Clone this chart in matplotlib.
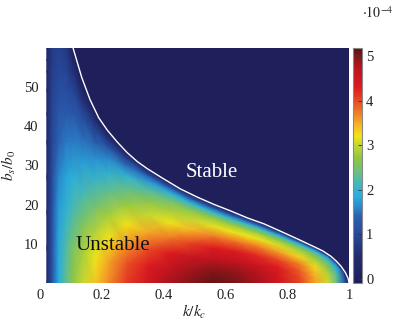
import numpy as np
import matplotlib
matplotlib.use("Agg")
import matplotlib.pyplot as plt
from matplotlib.colors import LinearSegmentedColormap, Normalize

plt.rcParams['font.family'] = ['Liberation Serif', 'DejaVu Serif']
plt.rcParams['mathtext.fontset'] = 'stix'

# ---- data ----
# k/k_c positions of mesh columns
k_cols = [0.022, 0.04, 0.06, 0.085, 0.107, 0.14, 0.18, 0.22, 0.28, 0.35, 0.42,
          0.49, 0.56, 0.63, 0.70, 0.77, 0.84, 0.89, 0.93, 0.96, 0.985, 1.0]
# top of the unstable region in each column (b_s/b_0), clipped at 60
top_cols = [60, 60, 60, 60, 60, 51.5, 43.8, 38.8, 33.45, 29.05, 25.65,
            22.65, 20.15, 17.95, 15.85, 13.5, 11.0, 9.15, 7.45, 5.5, 3.05, 0.0]
# fractional heights of mesh rows (fraction of column top)
s_rows = [0, 0.15, 0.3, 0.45, 0.6, 0.72, 0.82, 0.9, 0.95, 1.0]
# growth rate (x1e-4), one list per column, bottom -> top
growth_cols = [
    [0.5, 0.5, 0.5, 0.48, 0.45, 0.42, 0.4, 0.38, 0.37, 0.36],
    [1.2, 1.2, 1.15, 1.1, 1.0, 0.95, 0.9, 0.85, 0.8, 0.78],
    [1.85, 1.82, 1.75, 1.6, 1.4, 1.25, 1.1, 1.0, 0.95, 0.9],
    [2.35, 2.25, 2.0, 1.8, 1.55, 1.3, 1.1, 0.95, 0.85, 0.75],
    [2.7, 2.55, 2.2, 1.9, 1.55, 1.25, 0.95, 0.6, 0.35, 0.0],
    [3.0, 2.85, 2.55, 2.15, 1.75, 1.45, 1.05, 0.6, 0.3, 0.0],
    [3.35, 3.2, 2.9, 2.5, 2.05, 1.7, 1.3, 0.85, 0.45, 0.0],
    [3.65, 3.5, 3.2, 2.8, 2.35, 1.95, 1.6, 1.1, 0.6, 0.0],
    [4.1, 3.95, 3.6, 3.2, 2.75, 2.35, 1.95, 1.45, 0.85, 0.0],
    [4.5, 4.3, 4.0, 3.5, 3.0, 2.65, 2.25, 1.7, 1.1, 0.0],
    [4.8, 4.65, 4.35, 3.75, 3.2, 2.85, 2.5, 1.9, 1.3, 0.0],
    [5.0, 4.85, 4.55, 4.05, 3.45, 3.0, 2.65, 1.95, 1.3, 0.0],
    [5.12, 5.0, 4.7, 4.3, 3.7, 3.15, 2.75, 2.0, 1.3, 0.0],
    [5.05, 4.95, 4.7, 4.35, 3.75, 3.2, 2.75, 2.0, 1.3, 0.0],
    [4.85, 4.75, 4.55, 4.2, 3.7, 3.2, 2.75, 2.05, 1.35, 0.0],
    [4.5, 4.45, 4.3, 4.0, 3.55, 3.1, 2.7, 2.05, 1.4, 0.0],
    [4.05, 4.0, 3.9, 3.7, 3.3, 2.95, 2.6, 2.05, 1.45, 0.0],
    [3.55, 3.5, 3.4, 3.25, 2.95, 2.7, 2.4, 1.9, 1.35, 0.0],
    [3.05, 3.0, 2.95, 2.8, 2.6, 2.35, 2.1, 1.7, 1.2, 0.0],
    [2.4, 2.35, 2.3, 2.2, 2.05, 1.85, 1.65, 1.35, 1.0, 0.0],
    [1.3, 1.3, 1.25, 1.2, 1.1, 1.0, 0.9, 0.7, 0.5, 0.0],
    [0, 0, 0, 0, 0, 0, 0, 0, 0, 0],
]
# marginal-stability curve (white line)
bnd_k = [0.107, 0.135, 0.162, 0.19, 0.218, 0.25, 0.282, 0.315, 0.347, 0.40, 0.455,
         0.51, 0.562, 0.617, 0.672, 0.725, 0.779, 0.832, 0.886, 0.915, 0.942,
         0.96, 0.974, 0.988, 0.997, 1.0]
bnd_b = [60, 52.5, 46.8, 42.2, 39.0, 36.0, 33.3, 31.0, 29.2, 26.6, 24.0,
         21.9, 20.1, 18.4, 16.6, 15.1, 13.2, 11.3, 9.3, 8.2, 6.8,
         5.5, 4.3, 2.7, 1.2, 0.0]

xticks = [0, 0.2, 0.4, 0.6, 0.8, 1]
xticklabels = ['0', '0.2', '0.4', '0.6', '0.8', '1']
yticks = [10, 20, 30, 40, 50]
cticks = [0, 1, 2, 3, 4, 5]

# ---- colormap ----
vmin, vmax = -0.09, 5.18
stops = [(-0.09, '#1d1d58'), (0.5, '#222b6e'), (1.0, '#27489a'), (1.4, '#2b60b0'),
         (1.65, '#2a8ed0'), (1.85, '#28aee0'), (2.1, '#3db7c2'), (2.4, '#6abf82'),
         (2.7, '#8fc644'), (3.0, '#c4d632'), (3.2, '#f0e41a'), (3.45, '#f5b626'),
         (3.7, '#f08226'), (4.0, '#e84a24'), (4.3, '#de1a20'), (4.7, '#bf1420'),
         (5.0, '#861518'), (5.18, '#581214')]
cmap = LinearSegmentedColormap.from_list(
    'jetlike', [((v - vmin) / (vmax - vmin), c) for v, c in stops])
norm = Normalize(vmin=vmin, vmax=vmax)

# ---- figure ----
W, H = 402, 332
fig = plt.figure(figsize=(W / 100, H / 100), dpi=100)
ax = fig.add_axes([40 / W, (H - 283) / H, 309 / W, 235 / H])

K = np.array(k_cols)
T = np.array(top_cols)
S = np.array(s_rows)
V = np.array(growth_cols).T  # rows x cols
X = np.tile(K, (len(S) + 1, 1))
Y = np.vstack([S[:, None] * T[None, :], np.full((1, len(K)), 60.0)])
Z = np.vstack([V, np.zeros((1, len(K)))])
mesh = ax.pcolormesh(X, Y, Z, shading='gouraud', cmap=cmap, norm=norm,
                     rasterized=True)
ax.plot(bnd_k, bnd_b, color='white', lw=1.0, clip_on=True)

ax.set_xlim(0, 1)
ax.set_ylim(0, 60)
for sp in ax.spines.values():
    sp.set_visible(False)
ax.set_xticks(xticks)
ax.set_xticklabels(xticklabels)
ax.set_yticks(yticks)
ax.tick_params(length=0, labelsize=10.5, colors='#222222')
ax.tick_params(axis='x', pad=4)
ax.tick_params(axis='y', pad=1)
ax.set_xlabel('$k/k_c$', fontsize=11, labelpad=1, color='#222222')
ax.set_ylabel('$b_s/b_0$', fontsize=11, labelpad=4, color='#222222')

ax.text(0.237, 9.6, 'Unstable', fontsize=15, color='#111111',
        ha='center', va='center')
ax.text(0.555, 28.2, 'Stable', fontsize=15, color='white',
        ha='center', va='center')

cax = fig.add_axes([353 / W, (H - 283) / H, 9 / W, 235 / H])
cb = fig.colorbar(mesh, cax=cax, ticks=cticks)
cb.outline.set_edgecolor('#888888')
cb.outline.set_linewidth(0.8)
cax.tick_params(direction='in', length=3, width=0.6, color='#333333',
                labelsize=10.5, pad=3, labelcolor='#222222')
fig.text(362 / W, 1 - 13 / H, '$\\cdot10^{-4}$', fontsize=10, color='#222222',
         ha='left', va='center')

fig.savefig('out.png', dpi=100)
